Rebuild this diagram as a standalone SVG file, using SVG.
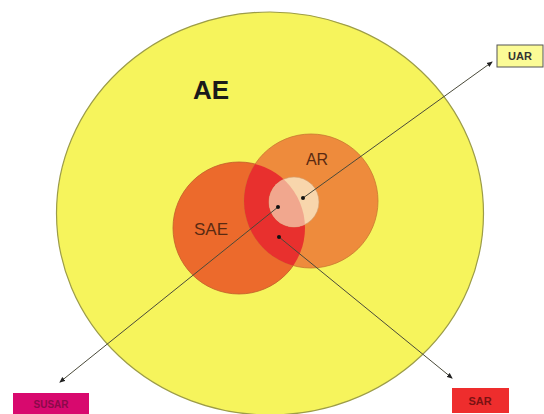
<svg xmlns="http://www.w3.org/2000/svg" width="544" height="414" viewBox="0 0 544 414">
<style>
.lbl{font-family:"Liberation Sans",Arial,sans-serif}
.ln{stroke:#4a4a3a;stroke-width:1;fill:none}
.dot{fill:#111}
</style>
<defs>
<clipPath id="clipSAE"><circle cx="239" cy="228" r="66"/></clipPath>
<marker id="ah" markerWidth="6" markerHeight="6" refX="5" refY="3" orient="auto" markerUnits="userSpaceOnUse"><path d="M0,0.5 L6,3 L0,5.5 Z" fill="#222"/></marker>
</defs>
<rect width="544" height="414" fill="#fff"/>
<g id="AE">
<ellipse cx="270" cy="213.5" rx="213.5" ry="201.5" fill="#F6F45C" stroke="#9c9c48" stroke-width="1.2"/>
<text class="lbl" x="211" y="99" font-size="26" font-weight="bold" fill="#1a1a1a" text-anchor="middle">AE</text>
</g>
<g id="SAE">
<circle cx="239" cy="228" r="66" fill="#EC6A2C" stroke="#c0602a" stroke-width="0.8"/>
<text class="lbl" x="211" y="235" font-size="17" fill="#5a2a12" text-anchor="middle">SAE</text>
</g>
<g id="AR">
<circle cx="311" cy="201" r="67" fill="#EE8B3C" stroke="#c87a30" stroke-width="0.8"/>
<circle cx="311" cy="201" r="67" fill="#E8302E" clip-path="url(#clipSAE)"/>
<text class="lbl" x="317" y="165" font-size="16" fill="#5a2a12" text-anchor="middle">AR</text>
</g>
<g id="core">
<circle cx="294" cy="202" r="25" fill="#F8D6AC" stroke="#d0a070" stroke-width="0.6"/>
<circle cx="294" cy="202" r="25" fill="#F1A78E" clip-path="url(#clipSAE)"/>
</g>
<g id="connectors">
<line class="ln" x1="303" y1="198" x2="492" y2="62" marker-end="url(#ah)"/>
<line class="ln" x1="278" y1="207" x2="60" y2="382" marker-end="url(#ah)"/>
<line class="ln" x1="279" y1="237" x2="452" y2="378" marker-end="url(#ah)"/>
<circle class="dot" cx="303" cy="198" r="2"/>
<circle class="dot" cx="278" cy="207" r="2"/>
<circle class="dot" cx="279" cy="237" r="2"/>
</g>
<g id="UAR">
<rect x="497" y="45" width="46" height="22" fill="#FBFB96" stroke="#555" stroke-width="1"/>
<text class="lbl" x="520" y="60" font-size="11" font-weight="bold" fill="#333" text-anchor="middle">UAR</text>
</g>
<g id="SUSAR">
<rect x="13" y="393" width="76" height="22" fill="#D8096E"/>
<text class="lbl" x="51" y="408" font-size="10" font-weight="bold" fill="#8a0a4a" text-anchor="middle">SUSAR</text>
</g>
<g id="SAR">
<rect x="452" y="388" width="57" height="25" fill="#EE2D2D"/>
<text class="lbl" x="480" y="405" font-size="11" font-weight="bold" fill="#7a1212" text-anchor="middle">SAR</text>
</g>
</svg>
